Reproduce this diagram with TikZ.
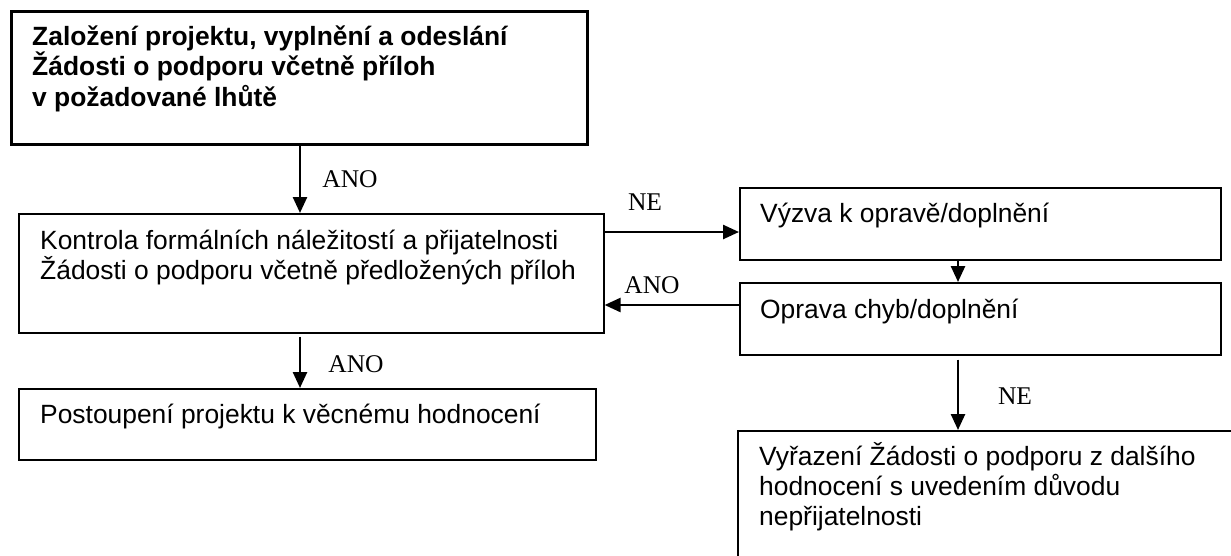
\documentclass[tikz,border=0pt]{standalone}
\usepackage{fontspec}
\setmainfont{Liberation Serif}
\newfontfamily\arialf{Liberation Sans}
\usetikzlibrary{arrows.meta,calc}
\begin{document}
\begin{tikzpicture}[x=1pt,y=-1pt,
  box/.style={draw,line width=1.6pt,inner sep=0pt,anchor=north west},
  boxtxt/.style={anchor=base west,inner sep=0pt,font=\arialf\fontsize{26.4}{30.5}\selectfont},
  boldtxt/.style={boxtxt,font=\arialf\bfseries\fontsize{26.4}{30.5}\selectfont},
  lbl/.style={anchor=base,inner sep=0pt,font=\fontsize{25.5}{28}\selectfont},
  arr/.style={line width=2.5pt,-{Triangle[length=16pt,width=14pt]}}]
\useasboundingbox (0,0) rectangle (1231,555);
% boxes
\node[box,line width=2.5pt,minimum width=576pt,minimum height=133pt] (top) at (10,10) {};
\node[box,minimum width=585pt,minimum height=119pt] (kon) at (18,213) {};
\node[box,minimum width=577pt,minimum height=71pt] (pos) at (18,388) {};
\node[box,minimum width=481pt,minimum height=72pt] (vyz) at (739,187) {};
\node[box,minimum width=481pt,minimum height=72pt] (opr) at (739,282) {};
\begin{scope}
\clip (0,0) rectangle (1231,555);
\node[box,minimum width=520pt,minimum height=140pt] (vyr) at (737,430) {};
\end{scope}
% texts
\node[boldtxt] (t1) at (32,45) {Založení projektu, vyplnění a odeslání};
\node[boldtxt] (t2) at (32,75.5) {Žádosti o podporu včetně příloh};
\node[boldtxt] (t3) at (32,106) {v požadované lhůtě};
\node[boxtxt] (k1) at (40,249) {Kontrola formálních náležitostí a přijatelnosti};
\node[boxtxt] (k2) at (40,279) {Žádosti o podporu včetně předložených příloh};
\node[boxtxt] (p1) at (40,423) {Postoupení projektu k věcnému hodnocení};
\node[boxtxt] (v1) at (760,222) {Výzva k opravě/doplnění};
\node[boxtxt] (o1) at (760,318) {Oprava chyb/doplnění};
\node[boxtxt] (r1) at (759,465) {Vyřazení Žádosti o podporu z dalšího};
\node[boxtxt] (r2) at (759,495) {hodnocení s uvedením důvodu};
\node[boxtxt] (r3) at (759,525) {nepřijatelnosti};
% labels
\node[lbl] (l1) at (350,187) {ANO};
\node[lbl] (l2) at (645,210) {NE};
\node[lbl] (l3) at (652,293) {ANO};
\node[lbl] (l4) at (356,372) {ANO};
\node[lbl] (l5) at (1015,404) {NE};
% connectors
\coordinate (xl) at (300,0);
\coordinate (xr) at (958,0);
\coordinate (yne) at (0,232);
\coordinate (yano) at (0,305);
\draw[arr] (xl |- top.south) -- (xl |- kon.north);
\draw[arr] (yne -| kon.east) -- (yne -| vyz.west);
\draw[arr] (yano -| opr.west) -- (yano -| kon.east);
\draw[arr] ($(xl |- kon.south)+(0,3)$) -- (xl |- pos.north);
\draw[arr] (xr |- vyz.south) -- (xr |- opr.north);
\draw[arr] ($(xr |- opr.south)+(0,4)$) -- (xr |- vyr.north);
\end{tikzpicture}
\end{document}
